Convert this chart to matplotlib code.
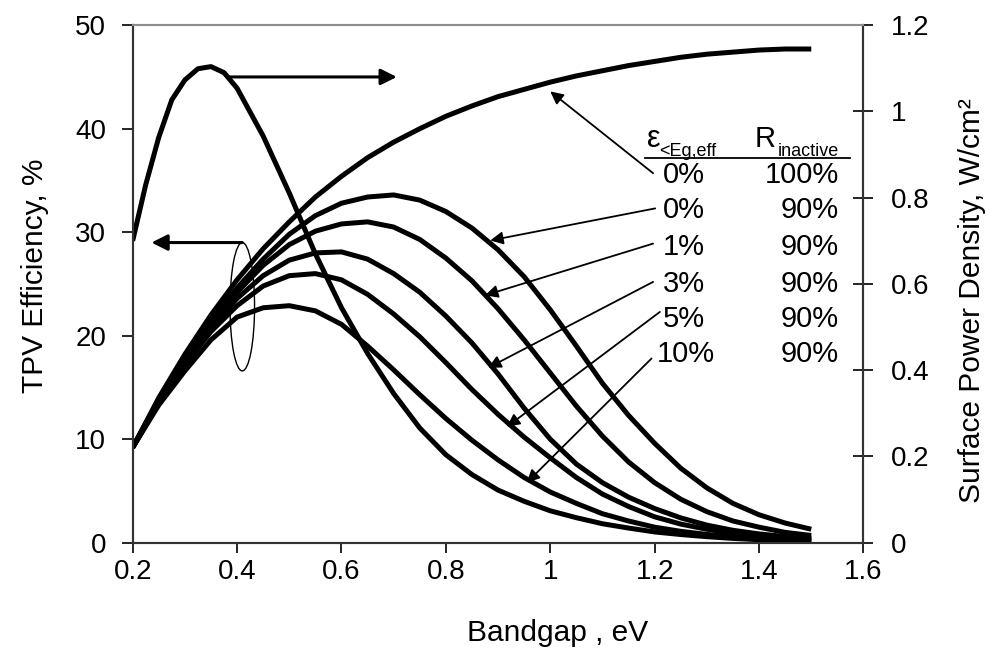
import numpy as np
import matplotlib.pyplot as plt
from matplotlib.patches import Ellipse

plt.rcParams['font.family'] = ['Liberation Sans', 'DejaVu Sans']

# bandgap grid (eV) for the efficiency curves
bandgap = [0.2, 0.25, 0.3, 0.35, 0.4, 0.45, 0.5, 0.55, 0.6, 0.65, 0.7, 0.75, 0.8, 0.85,
           0.9, 0.95, 1.0, 1.05, 1.1, 1.15, 1.2, 1.25, 1.3, 1.35, 1.4, 1.45, 1.5]

# TPV efficiency, %  (eps<Eg,eff / R_inactive)
eff_e0_r100 = [9.2, 14.0, 18.2, 22.0, 25.4, 28.4, 31.0, 33.4, 35.4, 37.2, 38.7, 40.0, 41.2, 42.2,
               43.1, 43.8, 44.5, 45.1, 45.6, 46.1, 46.5, 46.9, 47.2, 47.4, 47.6, 47.7, 47.7]
eff_e0_r90 = [9.2, 13.8, 17.9, 21.5, 24.6, 27.4, 29.8, 31.6, 32.8, 33.4, 33.6, 33.1, 32.0, 30.4,
              28.3, 25.7, 22.5, 19.0, 15.4, 12.3, 9.6, 7.2, 5.3, 3.8, 2.7, 1.9, 1.3]
eff_e1_r90 = [9.2, 13.7, 17.7, 21.2, 24.2, 26.8, 28.8, 30.1, 30.8, 31.0, 30.5, 29.3, 27.5, 25.3,
              22.6, 19.6, 16.4, 13.2, 10.3, 7.8, 5.8, 4.2, 3.0, 2.1, 1.5, 1.0, 0.7]
eff_e3_r90 = [9.2, 13.6, 17.4, 20.8, 23.6, 25.8, 27.3, 28.0, 28.1, 27.4, 26.0, 24.2, 21.9, 19.3,
              16.3, 13.0, 10.0, 7.6, 5.8, 4.4, 3.3, 2.4, 1.7, 1.2, 0.85, 0.6, 0.45]
eff_e5_r90 = [9.2, 13.5, 17.2, 20.4, 22.9, 24.8, 25.8, 26.0, 25.4, 24.0, 22.1, 19.9, 17.4, 14.8,
              12.4, 10.2, 8.2, 6.3, 4.7, 3.5, 2.5, 1.8, 1.3, 0.9, 0.65, 0.45, 0.35]
eff_e10_r90 = [9.2, 13.3, 16.6, 19.6, 21.8, 22.7, 22.9, 22.4, 21.1, 19.0, 16.7, 14.3, 12.0, 9.9,
               8.0, 6.3, 4.9, 3.8, 2.8, 2.1, 1.5, 1.1, 0.8, 0.55, 0.4, 0.3, 0.25]

# surface power density, W/cm2
power_bandgap = [0.2, 0.225, 0.25, 0.275, 0.3, 0.325, 0.35, 0.375, 0.4, 0.45, 0.5, 0.55, 0.6,
                 0.65, 0.7, 0.75, 0.8, 0.85, 0.9, 0.95, 1.0, 1.05, 1.1, 1.15, 1.2, 1.25, 1.3,
                 1.35, 1.4, 1.45, 1.5]
power_density = [0.70, 0.83, 0.94, 1.027, 1.073, 1.099, 1.104, 1.09, 1.054, 0.943, 0.811, 0.67,
                 0.545, 0.439, 0.346, 0.266, 0.204, 0.158, 0.122, 0.096, 0.074, 0.058, 0.044,
                 0.034, 0.025, 0.019, 0.014, 0.010, 0.007, 0.005, 0.004]

eps_labels = ['0%', '0%', '1%', '3%', '5%', '10%']
r_labels = ['100%', '90%', '90%', '90%', '90%', '90%']

x_ticks = [0.2, 0.4, 0.6, 0.8, 1.0, 1.2, 1.4, 1.6]
x_tick_labels = ['0.2', '0.4', '0.6', '0.8', '1', '1.2', '1.4', '1.6']
left_ticks = [0, 10, 20, 30, 40, 50]
right_ticks = [0, 0.2, 0.4, 0.6, 0.8, 1.0, 1.2]
right_tick_labels = ['0', '0.2', '0.4', '0.6', '0.8', '1', '1.2']

fig = plt.figure(figsize=(9.9, 6.58), dpi=100)
ax = fig.add_axes([0.134, 0.1752, 0.7382, 0.7865])
ax2 = ax.twinx()

curve_lw = 3.6
for series in [eff_e0_r100, eff_e0_r90, eff_e1_r90, eff_e3_r90, eff_e5_r90, eff_e10_r90]:
    ax.plot(bandgap, series, color='black', lw=curve_lw, solid_capstyle='butt')
ax2.plot(power_bandgap, power_density, color='black', lw=curve_lw, solid_capstyle='butt')

ax.set_xlim(0.2, 1.6)
ax.set_ylim(0, 50)
ax2.set_ylim(0, 1.2)
ax.set_xticks(x_ticks)
ax.set_xticklabels(x_tick_labels)
ax.set_yticks(left_ticks)
ax2.set_yticks(right_ticks)
ax2.set_yticklabels(right_tick_labels)

fs = 20
lfs = 21.5
ax.tick_params(axis='y', direction='out', length=8, width=1.2, pad=11, labelsize=fs)
ax.tick_params(axis='x', direction='out', length=7, width=1.2, pad=5, labelsize=fs)
ax2.tick_params(axis='y', direction='inout', length=14, width=1.2, pad=13, labelsize=fs)

for a in (ax, ax2):
    for side in ['left', 'right', 'bottom']:
        a.spines[side].set_color('#333333')
        a.spines[side].set_linewidth(1.5)
    a.spines['top'].set_color('#8c8c8c')
    a.spines['top'].set_linewidth(1.5)

ax.set_xlabel('Bandgap , eV', fontsize=lfs, labelpad=24, x=0.581)
ax.set_ylabel('TPV Efficiency, %', fontsize=lfs, labelpad=19, y=0.515)
ax2.set_ylabel('Surface Power Density, W/cm²', fontsize=lfs, labelpad=20, y=0.467)


def arrow(tail, tip, lw, scale):
    ax.annotate('', xy=tip, xytext=tail,
                arrowprops=dict(arrowstyle='-|>', color='black', lw=lw,
                                mutation_scale=scale, shrinkA=0, shrinkB=0))


# axis-pointer arrows
arrow((0.383, 45.0), (0.706, 45.0), 2.2, 24)
arrow((0.41, 29.0), (0.236, 29.0), 2.2, 24)
ax.add_patch(Ellipse((0.41, 22.8), width=0.047, height=12.4, fill=False, lw=1.0, color='black'))

# label arrows
label_arrows = [((1.197, 35.7), (1.0, 43.6)),
                ((1.201, 32.3), (0.885, 29.2)),
                ((1.197, 28.9), (0.875, 23.9)),
                ((1.197, 25.2), (0.881, 16.9)),
                ((1.210, 22.3), (0.917, 11.2)),
                ((1.194, 17.8), (0.955, 5.8))]
for tail, tip in label_arrows:
    arrow(tail, tip, 1.3, 19)

# table of curve labels
ax.text(1.185, 38.2, 'ε', fontsize=fs + 2, ha='left', va='baseline')
ax.text(1.209, 37.4, '<Eg,eff', fontsize=13, ha='left', va='baseline')
ax.text(1.392, 38.2, 'R', fontsize=fs + 1, ha='left', va='baseline')
ax.text(1.436, 37.4, 'inactive', fontsize=13, ha='left', va='baseline')
ax.plot([1.182, 1.575], [37.2, 37.2], color='black', lw=1.3, clip_on=False)

row_y = [34.72, 31.34, 27.79, 24.25, 20.87, 17.49]
for i, (e, r) in enumerate(zip(eps_labels, r_labels)):
    ax.text(1.204 if len(e) > 2 else 1.216, row_y[i], e, fontsize=fs + 1, ha='left', va='baseline')
    ax.text(1.553, row_y[i], r, fontsize=fs + 1, ha='right', va='baseline')

fig.savefig('out.png', dpi=100)
